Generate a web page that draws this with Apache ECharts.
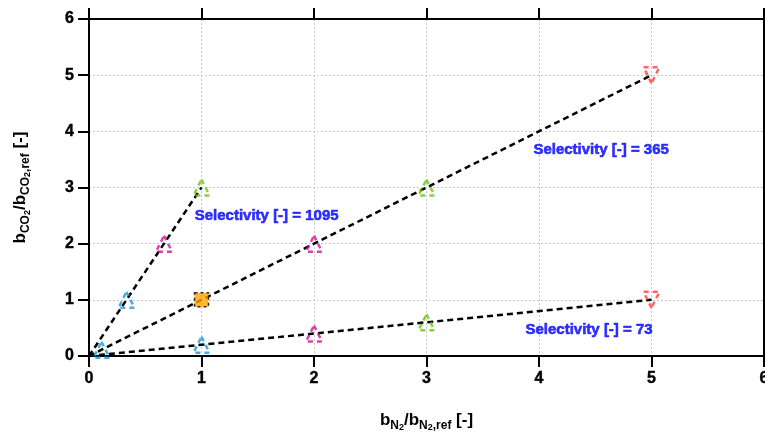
<!DOCTYPE html>
<html>
<head>
<meta charset="utf-8">
<script src="https://cdn.jsdelivr.net/npm/echarts@6/dist/echarts.min.js"></script>
<style>
  html, body { margin: 0; padding: 0; background: #fff; overflow: hidden; }
  #chart { width: 765px; height: 440px; }
</style>
</head>
<body>
<div id="chart"></div>
<script>
// selectivity lines (from origin)
const line1095 = [[0, 0], [1, 3]];
const line365 = [[0, 0], [5, 5]];
const line73 = [[0, 0], [5, 1]];

// markers by colour
const bluePts = [[0.111, 0.111], [0.333, 1], [1, 0.2]];
const magentaPts = [[0.667, 2], [2, 2], [2, 0.4]];
const greenPts = [[1, 3], [3, 3], [3, 0.6]];
const redPts = [[5, 5], [5, 1]];
const refPt = [[1, 1]];

// annotations
const labels = [
    { text: 'Selectivity [-] = 1095', pos: [0.94, 2.49] },
    { text: 'Selectivity [-] = 365', pos: [3.95, 3.67] },
    { text: 'Selectivity [-] = 73', pos: [3.88, 0.46] }
];

const chart = echarts.init(document.getElementById('chart'));

const fontBase = 'Liberation Sans, Arial, sans-serif';

const rich = {
    m: { fontSize: 17, fontWeight: 'bold', fontFamily: fontBase, color: '#000', lineHeight: 24, verticalAlign: 'middle' },
    s: { fontSize: 12, fontWeight: 'bold', fontFamily: fontBase, color: '#000', lineHeight: 16, verticalAlign: 'bottom' },
    ss: { fontSize: 9, fontWeight: 'bold', fontFamily: fontBase, color: '#000', lineHeight: 7, verticalAlign: 'bottom' }
};

function axisCommon(showLabel) {
    return {
        type: 'value',
        min: 0,
        max: 6,
        interval: 1,
        axisLine: { show: true, onZero: false, lineStyle: { color: '#000', width: 2 } },
        axisTick: { show: true, inside: false, length: 11, lineStyle: { color: '#000', width: 2 } },
        axisLabel: {
            show: showLabel, color: '#000', fontSize: 16, fontWeight: 'bold', fontFamily: fontBase,
            textBorderColor: '#000', textBorderWidth: 0.4
        },
        splitLine: { show: showLabel, lineStyle: { color: '#c8c8c8', type: [2, 2], width: 1 } }
    };
}

function dashedLine(data) {
    return {
        type: 'line',
        data: data,
        symbol: 'none',
        z: 2,
        lineStyle: { color: '#000', width: 2.5, type: [6, 4] },
        silent: true
    };
}

function markerSeries(data, color, rotate) {
    return {
        type: 'scatter',
        data: data,
        symbol: 'triangle',
        symbolSize: 16,
        symbolRotate: rotate,
        z: 3,
        itemStyle: { color: 'rgba(0,0,0,0)', borderColor: color, borderWidth: 2.5, borderType: [5, 4] }
    };
}

const xMain = axisCommon(true);
xMain.position = 'bottom';
xMain.axisLabel.margin = 15;
xMain.name = '{m|b}{s|N}{ss|2}{m|/b}{s|N}{ss|2}{s|,ref}{m| [-]}';
xMain.nameLocation = 'middle';
xMain.nameGap = 52;
xMain.nameTextStyle = { rich: rich };

const xTop = axisCommon(false);
xTop.position = 'top';

const yMain = axisCommon(true);
yMain.position = 'left';
yMain.axisLabel.margin = 15;
yMain.name = '{m|b}{s|CO}{ss|2}{m|/b}{s|CO}{ss|2}{s|,ref}{m| [-]}';
yMain.nameLocation = 'middle';
yMain.nameGap = 57;
yMain.nameTextStyle = { rich: rich };

const yRight = axisCommon(false);
yRight.position = 'right';

chart.setOption({
    animation: false,
    backgroundColor: '#fff',
    grid: { left: 89, right: 1, top: 19, bottom: 84, containLabel: false, outerBoundsMode: 'none' },
    xAxis: [xMain, xTop],
    yAxis: [yMain, yRight],
    series: [
        dashedLine(line1095),
        dashedLine(line365),
        dashedLine(line73),
        markerSeries(bluePts, '#1e96d8', 0),
        markerSeries(magentaPts, '#cc1496', 0),
        markerSeries(greenPts, '#66c410', 0),
        markerSeries(redPts, '#ff3c3c', 180),
        {
            type: 'scatter',
            data: refPt,
            symbol: 'rect',
            symbolSize: 14,
            z: 4,
            itemStyle: { color: '#ffa500', borderColor: '#000', borderWidth: 1.5, borderType: [3, 3] }
        },
        {
            type: 'scatter',
            data: labels.map(l => ({ value: l.pos, name: l.text })),
            symbolSize: 0,
            z: 5,
            silent: true,
            label: {
                show: true,
                position: 'right',
                distance: 0,
                formatter: p => p.name,
                color: '#0000ff',
                fontSize: 15,
                fontWeight: 'bold',
                fontFamily: fontBase,
                textBorderColor: '#0000ff',
                textBorderWidth: 0.6
            }
        }
    ]
});
</script>
</body>
</html>
